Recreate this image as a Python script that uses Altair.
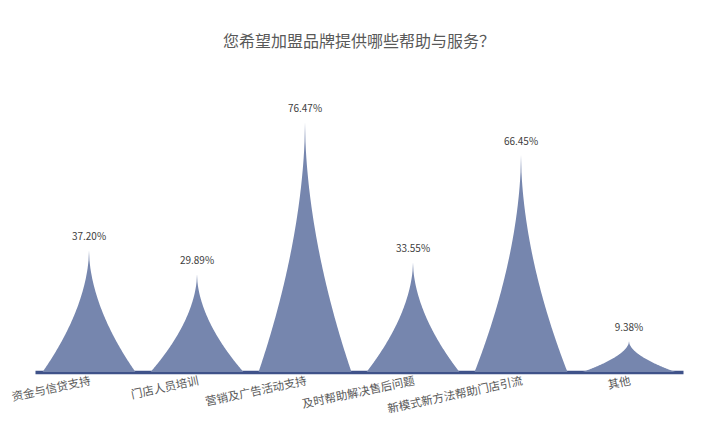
import json
import altair as alt
import pandas as pd

categories = ["资金与信贷支持", "门店人员培训", "营销及广告活动支持",
              "及时帮助解决售后问题", "新模式新方法帮助门店引流", "其他"]
values = [37.20, 29.89, 76.47, 33.55, 66.45, 9.38]
value_labels = ["37.20%", "29.89%", "76.47%", "33.55%", "66.45%", "9.38%"]

df = pd.DataFrame({
    "idx": list(range(len(categories))),
    "cat": categories,
    "value": values,
    "label": value_labels,
})

FONT = "Noto Sans CJK SC"
label_expr = json.dumps(categories, ensure_ascii=False) + "[datum.value]"

xscale = alt.Scale(domain=[-0.5, 5.5], nice=False, zero=False)
yscale = alt.Scale(domain=[0, 90], nice=False)

spikes = alt.Chart(df).transform_calculate(
    t="sequence(-1, 1.0001, 0.01)"
).transform_flatten(["t"]).transform_calculate(
    px="datum.idx + datum.t * 0.43",
    py="datum.value * (1 - pow(abs(datum.t), 0.55))",
).mark_area(color="#7686ae", interpolate="linear").encode(
    x=alt.X("px:Q", scale=xscale, axis=alt.Axis(
        values=[0, 1, 2, 3, 4, 5], labelExpr=label_expr, title=None,
        grid=False, ticks=False, domain=True, domainColor="#3f5289",
        domainWidth=3.5, labelAngle=348, labelAlign="right",
        labelBaseline="top", labelPadding=3, labelFontSize=11.5,
        labelColor="#595959", labelFont=FONT, labelOverlap=False,
        labelBound=False, labelFlush=False)),
    y=alt.Y("py:Q", scale=yscale, axis=None),
    detail="cat:N",
)

texts = alt.Chart(df).mark_text(
    baseline="bottom", dy=-8, fontSize=10, color="#404040", font=FONT
).encode(
    x=alt.X("idx:Q", scale=xscale),
    y=alt.Y("value:Q", scale=yscale),
    text="label:N",
)

chart = alt.layer(spikes, texts).properties(
    width=648, height=294,
    title=alt.TitleParams("您希望加盟品牌提供哪些帮助与服务？", fontSize=16,
                          font=FONT, fontWeight="normal", color="#595959",
                          offset=28, anchor="middle"),
    padding={"left": 27, "top": 70, "right": 20, "bottom": 46},
    autosize=alt.AutoSizeParams(type="none"),
).configure(
    background="white",
    view=alt.ViewConfig(stroke="transparent", strokeWidth=0),
)

chart.save("out.html", embed_options={"renderer": "svg", "actions": False})
